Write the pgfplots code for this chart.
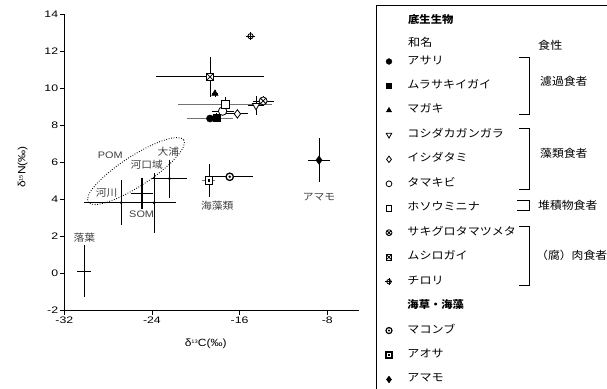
\documentclass[border=0pt]{standalone}
\usepackage{fontspec}
\usepackage{pgfplots}
\pgfplotsset{compat=1.18}
\setmainfont{Liberation Sans}[FakeStretch=1.15]
\newfontfamily\jp{Noto Sans CJK JP}[FakeStretch=1.08]
\newfontfamily\jpw{Noto Sans CJK JP}[FakeStretch=1.1]
\newfontfamily\tickf{Liberation Sans}[FakeStretch=1.3]

\pgfdeclareplotmark{boxx}{%
  \pgfpathrectangle{\pgfpoint{-\pgfplotmarksize}{-\pgfplotmarksize}}{\pgfpoint{2\pgfplotmarksize}{2\pgfplotmarksize}}%
  \pgfusepathqfillstroke
  \pgfpathmoveto{\pgfpoint{-\pgfplotmarksize}{-\pgfplotmarksize}}\pgfpathlineto{\pgfpoint{\pgfplotmarksize}{\pgfplotmarksize}}%
  \pgfpathmoveto{\pgfpoint{-\pgfplotmarksize}{\pgfplotmarksize}}\pgfpathlineto{\pgfpoint{\pgfplotmarksize}{-\pgfplotmarksize}}%
  \pgfusepathqstroke}
\pgfdeclareplotmark{circdot}{%
  \pgfpathcircle{\pgfpointorigin}{\pgfplotmarksize}\pgfusepathqfillstroke
  \pgfsetfillcolor{black}%
  \pgfpathcircle{\pgfpointorigin}{0.38\pgfplotmarksize}\pgfusepathqfill}
\pgfdeclareplotmark{boxdot}{%
  \pgfpathrectangle{\pgfpoint{-\pgfplotmarksize}{-\pgfplotmarksize}}{\pgfpoint{2\pgfplotmarksize}{2\pgfplotmarksize}}%
  \pgfusepathqfillstroke
  \pgfsetfillcolor{black}%
  \pgfpathrectangle{\pgfpoint{-0.35\pgfplotmarksize}{-0.35\pgfplotmarksize}}{\pgfpoint{0.7\pgfplotmarksize}{0.7\pgfplotmarksize}}%
  \pgfusepathqfill}
\pgfdeclareplotmark{chiro}{%
  \pgfpathcircle{\pgfpointorigin}{0.8\pgfplotmarksize}\pgfusepathqfillstroke
  \pgfpathmoveto{\pgfpoint{-1.25\pgfplotmarksize}{0pt}}\pgfpathlineto{\pgfpoint{1.25\pgfplotmarksize}{0pt}}%
  \pgfpathmoveto{\pgfpoint{0pt}{-1.25\pgfplotmarksize}}\pgfpathlineto{\pgfpoint{0pt}{1.25\pgfplotmarksize}}%
  \pgfusepathqstroke}

\begin{document}
\begin{tikzpicture}
\useasboundingbox (0,0) rectangle (607bp,389bp);
\begin{axis}[
  at={(64.3bp,79bp)}, anchor=south west,
  scale only axis, width=294.7bp, height=296bp,
  xmin=-32, xmax=-5.1, ymin=-2, ymax=14,
  axis lines=left, axis line style={line width=0.9bp, -},
  xtick={-32,-24,-16,-8}, xticklabels={-32,-24,-16,-8},
  ytick={-2,0,2,4,6,8,10,12,14}, yticklabels={-2,0,2,4,6,8,10,12,14},
  tick align=outside, major tick length=4.5bp,
  tick style={line width=0.8bp, black},
  ticklabel style={font=\tickf\fontsize{9.5}{11}\selectfont},
  yticklabel style={inner xsep=1.5bp},
  xticklabel style={inner ysep=2.5bp},
  clip=false,
  legend image code/.code={\draw[mark repeat=2,mark phase=2,#1] plot coordinates {(0bp,0bp) (4bp,0bp) (8bp,0bp)};},
  legend style={at={(1.0882,0.8581)}, anchor=north west, draw=none, fill=none,
    inner sep=0pt, outer sep=0pt, row sep=13.46bp, column sep=15bp,
    font=\jpw\fontsize{11}{13}\selectfont,
    nodes={inner sep=0pt, text height=8bp, text depth=3bp}},
  legend cell align=left,
]
% ---- x error bars (black, no caps)
\addplot[forget plot, draw=none, mark=none, error bars/.cd, x dir=both, x explicit,
  error mark=none, error bar style={line width=0.8bp, black}]
coordinates {
 (-18.1,8.4) +- (0.3,0)
 (-18.25,9.7) +- (0.3,0)
 (-14.5,9.05) +- (0.75,0)
 (-16.2,8.6) +- (1.0,0)
 (-17.55,8.75) +- (1.0,0)
 (-13.85,9.3) +- (0.95,0)
 (-18.7,10.6) +- (4.9,0)
 (-15.0,12.8) +- (0.25,0)
 (-16.9,5.2) +- (2.1,0)
 (-8.75,6.1) +- (1.0,0)
 (-30.2,0.1) +- (0.6,0)
};
% ---- x error bars (grey)
\addplot[forget plot, draw=none, mark=none, error bars/.cd, x dir=both, x explicit,
  error mark=none, error bar style={line width=0.8bp, black!55}]
coordinates {
 (-18.7,8.35) +- (2.1,0)
 (-17.3,9.1) +- (4.3,0)
 (-18.8,5.0) +- (0.6,0)
};
% ---- y error bars (black)
\addplot[forget plot, draw=none, mark=none, error bars/.cd, y dir=both, y explicit,
  error mark=none, error bar style={line width=0.8bp, black}]
coordinates {
 (-18.7,8.35) +- (0,0.15)
 (-18.1,8.4) +- (0,0.25)
 (-18.25,9.7) +- (0,0.2)
 (-14.5,9.05) +- (0,0.5)
 (-16.2,8.6) +- (0,0.2)
 (-17.55,8.75) +- (0,0.2)
 (-17.3,9.1) +- (0,0.4)
 (-13.85,9.3) +- (0,0.25)
 (-18.7,10.6) +- (0,1.1)
 (-15.0,12.8) +- (0,0.2)
 (-16.9,5.2) +- (0,0.1)
 (-18.8,5.0) +- (0,0.9)
 (-8.75,6.1) +- (0,1.2)
 (-30.2,0.1) +- (0,1.4)
};
% ---- sources (capped)
\addplot[forget plot, only marks, mark=*, mark size=1.2bp, black,
  error bars/.cd, x dir=both, y dir=both, x explicit, y explicit,
  error mark=-, error mark options={mark size=2.4bp, line width=0.8bp},
  error bar style={line width=0.8bp, black}]
coordinates {
 (-26.8,3.8) +- (3.2,1.1)
 (-23.8,3.8) +- (1.8,1.5)
 (-22.4,5.1) +- (1.4,0.9)
};
\addplot[forget plot, only marks, mark=*, mark size=1.2bp, black,
  error bars/.cd, x dir=both, y dir=both, x explicit, y explicit,
  error mark=-, error mark options={mark size=2.4bp, line width=1.4bp},
  error bar style={line width=1.6bp, black}]
coordinates {(-24.9,4.3) +- (0.8,0.7)};
% ---- markers
\addplot[forget plot, only marks, mark=*, mark size=3.6bp, black] coordinates {(-18.7,8.35)};
\addplot[forget plot, only marks, mark=square*, mark size=3.3bp, black] coordinates {(-18.1,8.4)};
\addplot[forget plot, only marks, mark=triangle*, mark size=3.8bp, black] coordinates {(-18.25,9.7)};
\addplot[forget plot, only marks, mark=triangle*, mark size=4.2bp, black, mark options={rotate=180, fill=white, line width=0.8bp}] coordinates {(-14.5,9.05)};
\addplot[forget plot, only marks, mark=diamond*, mark size=4.2bp, black, mark options={fill=white, line width=0.8bp}] coordinates {(-16.2,8.6)};
\addplot[forget plot, only marks, mark=*, mark size=4.2bp, black, mark options={fill=white, line width=0.8bp}] coordinates {(-17.55,8.75)};
\addplot[forget plot, only marks, mark=square*, mark size=4bp, black, mark options={fill=white, line width=0.8bp}] coordinates {(-17.3,9.1)};
\addplot[forget plot, only marks, mark=otimes*, mark size=4bp, black, mark options={fill=white, line width=0.8bp}] coordinates {(-13.85,9.3)};
\addplot[forget plot, only marks, mark=boxx, mark size=3.8bp, black, mark options={fill=white, line width=0.8bp}] coordinates {(-18.7,10.6)};
\addplot[forget plot, only marks, mark=chiro, mark size=3.3bp, black, mark options={fill=white, line width=0.9bp}] coordinates {(-15.0,12.8)};
\addplot[forget plot, only marks, mark=circdot, mark size=3.7bp, black, mark options={fill=white, line width=1.3bp}] coordinates {(-16.9,5.2)};
\addplot[forget plot, only marks, mark=boxdot, mark size=3.7bp, black, mark options={fill=white, line width=1.3bp}] coordinates {(-18.8,5.0)};
\addplot[forget plot, only marks, mark=diamond*, mark size=4.2bp, black] coordinates {(-8.75,6.1)};
% ---- dotted POM envelope and labels
\coordinate (E) at (axis cs:-25.46,5.51);
\draw[black, line width=0.9bp, dash pattern=on 0.8bp off 1.7bp, rotate around={33:(E)}] (E) ellipse (57bp and 15bp);
\begin{scope}[every node/.style={text=black!75, inner sep=0pt}]
\node at (axis cs:-27.8,6.38) {\fontsize{9.5}{11}\selectfont POM};
\node at (axis cs:-24.94,3.19) {\fontsize{9.5}{11}\selectfont SOM};
\node at (axis cs:-22.5,6.56) {\jp\fontsize{10}{12}\selectfont 大浦};
\node at (axis cs:-24.48,5.84) {\jp\fontsize{10}{12}\selectfont 河口域};
\node at (axis cs:-28.13,4.36) {\jp\fontsize{10}{12}\selectfont 河川};
\node at (axis cs:-18.04,3.62) {\jp\fontsize{10}{12}\selectfont 海藻類};
\node at (axis cs:-8.76,4.09) {\jp\fontsize{10}{12}\selectfont アマモ};
\node at (axis cs:-30.17,1.93) {\jp\fontsize{10}{12}\selectfont 落葉};
\end{scope}
% ---- legend
\addlegendimage{only marks, mark=*, mark size=2.9bp, black}
\addlegendentry{アサリ}
\addlegendimage{only marks, mark=square*, mark size=2.6bp, black}
\addlegendentry{ムラサキイガイ}
\addlegendimage{only marks, mark=triangle*, mark size=3.1bp, black}
\addlegendentry{マガキ}
\addlegendimage{only marks, mark=triangle*, mark size=3.2bp, black, mark options={rotate=180, fill=white, line width=0.8bp}}
\addlegendentry{コシダカガンガラ}
\addlegendimage{only marks, mark=diamond*, mark size=3.2bp, black, mark options={fill=white, line width=0.8bp}}
\addlegendentry{イシダタミ}
\addlegendimage{only marks, mark=*, mark size=2.9bp, black, mark options={fill=white, line width=0.8bp}}
\addlegendentry{タマキビ}
\addlegendimage{only marks, mark=square*, mark size=2.8bp, black, mark options={fill=white, line width=0.8bp}}
\addlegendentry{ホソウミニナ}
\addlegendimage{only marks, mark=otimes*, mark size=3bp, black, mark options={fill=white, line width=0.8bp}}
\addlegendentry{サキグロタマツメタ}
\addlegendimage{only marks, mark=boxx, mark size=2.8bp, black, mark options={fill=white, line width=0.8bp}}
\addlegendentry{ムシロガイ}
\addlegendimage{only marks, mark=chiro, mark size=2.8bp, black, mark options={fill=white, line width=0.9bp}}
\addlegendentry{チロリ}
\addlegendimage{empty legend}
\addlegendentry{\jp\fontsize{10.5}{12}\selectfont\bfseries 海草・海藻}
\addlegendimage{only marks, mark=circdot, mark size=3bp, black, mark options={fill=white, line width=1.2bp}}
\addlegendentry{マコンブ}
\addlegendimage{only marks, mark=boxdot, mark size=3bp, black, mark options={fill=white, line width=1.2bp}}
\addlegendentry{アオサ}
\addlegendimage{only marks, mark=diamond*, mark size=3.4bp, black}
\addlegendentry{アマモ}
\end{axis}
\begin{scope}[x=1bp, y=-1bp, yshift=389bp]
  \draw[line width=0.9bp] (376,400) -- (376,5) -- (615,5);
  \node[anchor=west, inner sep=0pt] at (408,20) {\jp\fontsize{10.5}{12}\selectfont\bfseries 底生生物};
  \node[anchor=west, inner sep=0pt] at (408,42) {\jpw\fontsize{11}{13}\selectfont 和名};
  \node[anchor=west, inner sep=0pt] at (538,45) {\jpw\fontsize{11}{13}\selectfont 食性};
  \draw[line width=0.9bp] (519,57) -- (529,57) -- (529,114) -- (519,114);
  \node[anchor=west, inner sep=0pt] at (540,81) {\jp\fontsize{11}{13}\selectfont 濾過食者};
  \draw[line width=0.9bp] (519,128) -- (529,128) -- (529,189) -- (519,189);
  \node[anchor=west, inner sep=0pt] at (540,153) {\jp\fontsize{11}{13}\selectfont 藻類食者};
  \draw[line width=0.9bp] (517,200) -- (529,200) -- (529,210.7) -- (517,210.7);
  \node[anchor=west, inner sep=0pt] at (538,205) {\jp\fontsize{11}{13}\selectfont 堆積物食者};
  \draw[line width=0.9bp] (519,226.7) -- (529,226.7) -- (529,285) -- (519,285);
  \node[anchor=west, inner sep=0pt] at (536,255) {\jp\fontsize{11}{13}\selectfont （腐）肉食者};
  \node[rotate=90, inner sep=0pt] at (22.7,167) {\fontsize{10.5}{12}\selectfont δ{\fontsize{5}{5}\selectfont\raisebox{2.8bp}{15}}N(‰)};
  \node[inner sep=0pt] at (205.7,343.3) {\fontsize{10.5}{12}\selectfont δ{\fontsize{5}{5}\selectfont\raisebox{2.8bp}{13}}C(‰)};
\end{scope}
\end{tikzpicture}
\end{document}
